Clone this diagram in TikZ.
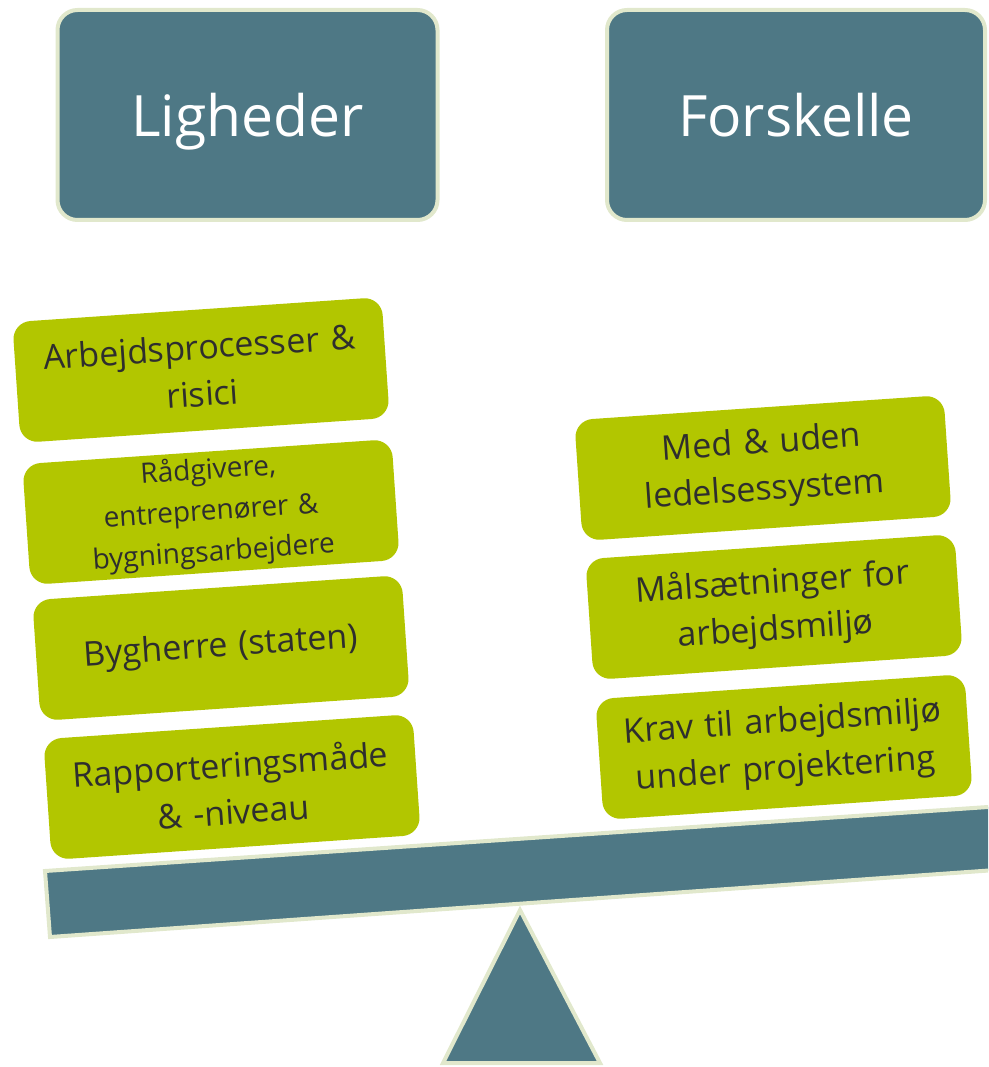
\documentclass[tikz,border=0pt]{standalone}
\usepackage{fontspec}
\setmainfont{Open Sans}
\definecolor{tealc}{HTML}{4E7885}
\definecolor{lightb}{HTML}{E1E8CC}
\definecolor{greenc}{HTML}{B2C600}
\definecolor{textd}{HTML}{2E2E2E}
\tikzset{
  header/.style={draw=lightb, line width=4pt, fill=tealc, rounded corners=20pt,
    minimum width=380pt, minimum height=210pt, inner sep=0pt, text=white,
    text height=43pt, text depth=0pt,
    font=\fontsize{57}{62}\selectfont},
  item/.style={fill=greenc, rounded corners=18pt, minimum width=370pt,
    minimum height=121pt, rotate=3.9, text=textd, align=center,
    text width=360pt, inner sep=0pt, font=\fontsize{34}{47}\selectfont},
  smallitem/.style={item, font=\fontsize{28}{41}\selectfont},
  shapeb/.style={draw=lightb, line width=4pt, fill=tealc, line join=miter}
}
\begin{document}
\begin{tikzpicture}[x=1pt,y=-1pt]
\useasboundingbox (0,0) rectangle (988,1067);
\clip (0,0) rectangle (988,1067);
% headers
\node[header] (lig) at (247.5,115) {Ligheder};
\node[header, minimum width=378pt] (for) at (796,115) {Forskelle};
% fulcrum
\coordinate (tA) at (520,910);
\coordinate (tB) at (600,1063);
\coordinate (tC) at (443,1063);
\draw[shapeb] (tA) -- (tB) -- (tC) -- cycle;
% beam
\coordinate (bTL) at (45,871);
\coordinate (bTR) at (1010,805.5);
\coordinate (bBR) at (1010,869);
\coordinate (bBL) at (50,937);
\draw[shapeb] (bTL) -- (bTR) -- (bBR) -- (bBL) -- cycle;
% left items
\node[item] (l1) at (201,370) {Arbejdsprocesser \&\\risici};
\node[smallitem] (l2) at (211,512) {Rådgivere,\\entreprenører \&\\bygningsarbejdere};
\node[item] (l3) at (221,648) {Bygherre (staten)};
\node[item] (l4) at (232,787) {Rapporteringsmåde\\\& -niveau};
% right items
\node[item] (r1) at (763,468) {Med \& uden\\ledelsessystem};
\node[item] (r2) at (774,607) {Målsætninger for\\arbejdsmiljø};
\node[item] (r3) at (784,747) {Krav til arbejdsmiljø\\under projektering};
\end{tikzpicture}
\end{document}
